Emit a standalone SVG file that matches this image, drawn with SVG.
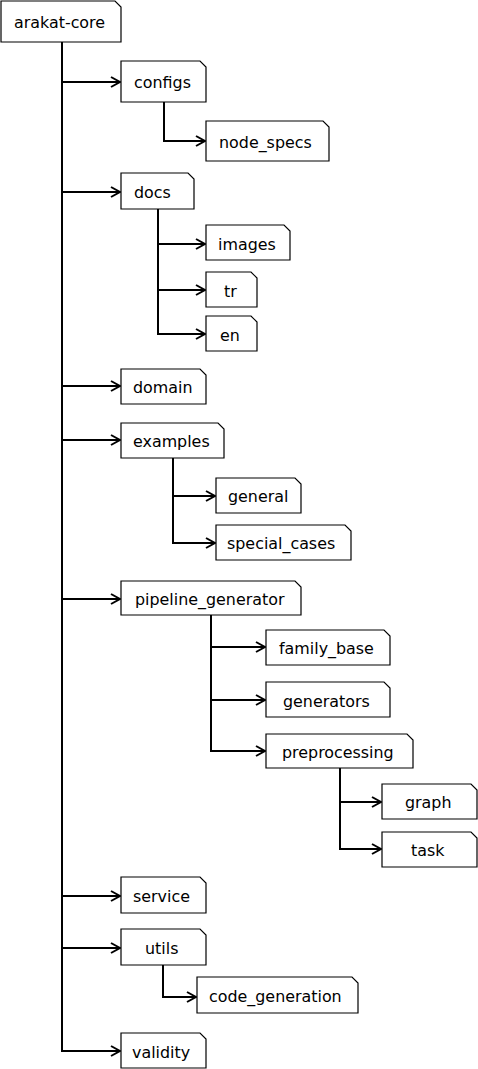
<svg xmlns="http://www.w3.org/2000/svg" width="478" height="1069" viewBox="0 0 478 1069">
<style>
.n path{fill:#fff;stroke:#000;stroke-width:1.2}
.n text{font-family:"DejaVu Sans",sans-serif;font-size:15.9px;fill:#000}
.c path{fill:none;stroke:#000;stroke-width:2;marker-end:url(#ah)}
</style>
<defs>
<marker id="ah" markerWidth="12" markerHeight="12" refX="10" refY="6" orient="auto" markerUnits="userSpaceOnUse">
<path d="M1,1 L10,6 L1,11" fill="none" stroke="#000" stroke-width="2"/>
</marker>
</defs>
<rect width="478" height="1069" fill="#fff"/>
<g class="c">
<path d="M62,42 V82 H120"/>
<path d="M62,82 V192 H120"/>
<path d="M62,192 V386 H120"/>
<path d="M62,386 V440 H120"/>
<path d="M62,440 V599 H120"/>
<path d="M62,599 V896 H120"/>
<path d="M62,896 V948 H120"/>
<path d="M62,948 V1051 H120"/>
<path d="M164,102 V141 H205"/>
<path d="M158,209 V244 H205"/>
<path d="M158,244 V290 H205"/>
<path d="M158,290 V334 H205"/>
<path d="M173,458 V496 H215"/>
<path d="M173,496 V543 H215"/>
<path d="M211,615 V647 H265"/>
<path d="M211,647 V700 H265"/>
<path d="M211,700 V751 H265"/>
<path d="M340,768 V802 H381"/>
<path d="M340,802 V849 H381"/>
<path d="M163,965 V997 H196"/>
</g>
<g id="arakat-core" class="n"><path d="M1,1 H115 L121,7 V42 H1 Z"/><text x="14" y="28">arakat-core</text></g>
<g id="configs" class="n"><path d="M121,61 H200 L206,67 V102 H121 Z"/><text x="134" y="88">configs</text></g>
<g id="node_specs" class="n"><path d="M206,121 H323 L329,127 V161 H206 Z"/><text x="219" y="147.5">node_specs</text></g>
<g id="docs" class="n"><path d="M121,173 H188 L194,179 V209 H121 Z"/><text x="134" y="197.5">docs</text></g>
<g id="images" class="n"><path d="M206,225 H284 L290,231 V260 H206 Z"/><text x="218" y="249.5">images</text></g>
<g id="tr" class="n"><path d="M206,272 H251 L257,278 V307 H206 Z"/><text x="224" y="296.5">tr</text></g>
<g id="en" class="n"><path d="M206,316 H251 L257,322 V351 H206 Z"/><text x="220" y="340.5">en</text></g>
<g id="domain" class="n"><path d="M121,369 H200 L206,375 V404 H121 Z"/><text x="133" y="393">domain</text></g>
<g id="examples" class="n"><path d="M121,423 H218 L224,429 V458 H121 Z"/><text x="133" y="447">examples</text></g>
<g id="general" class="n"><path d="M216,478 H295 L301,484 V513 H216 Z"/><text x="228" y="502">general</text></g>
<g id="special_cases" class="n"><path d="M216,525 H345 L351,531 V560 H216 Z"/><text x="227" y="549">special_cases</text></g>
<g id="pipeline_generator" class="n"><path d="M121,581 H295 L301,587 V615 H121 Z"/><text x="135" y="605">pipeline_generator</text></g>
<g id="family_base" class="n"><path d="M266,630 H384 L390,636 V665 H266 Z"/><text x="279" y="654">family_base</text></g>
<g id="generators" class="n"><path d="M266,682 H384 L390,688 V717 H266 Z"/><text x="283" y="706.5">generators</text></g>
<g id="preprocessing" class="n"><path d="M266,734 H407 L413,740 V768 H266 Z"/><text x="282" y="757.5">preprocessing</text></g>
<g id="graph" class="n"><path d="M382,784 H471 L477,790 V819 H382 Z"/><text x="405" y="808">graph</text></g>
<g id="task" class="n"><path d="M382,832 H471 L477,838 V867 H382 Z"/><text x="411" y="856">task</text></g>
<g id="service" class="n"><path d="M121,877 H200 L206,883 V913 H121 Z"/><text x="133" y="901.5">service</text></g>
<g id="utils" class="n"><path d="M121,929 H200 L206,935 V965 H121 Z"/><text x="145" y="953.5">utils</text></g>
<g id="code_generation" class="n"><path d="M197,977 H352 L358,983 V1013 H197 Z"/><text x="209" y="1001.5">code_generation</text></g>
<g id="validity" class="n"><path d="M121,1033 H200 L206,1039 V1068 H121 Z"/><text x="132" y="1057.5">validity</text></g>
</svg>
